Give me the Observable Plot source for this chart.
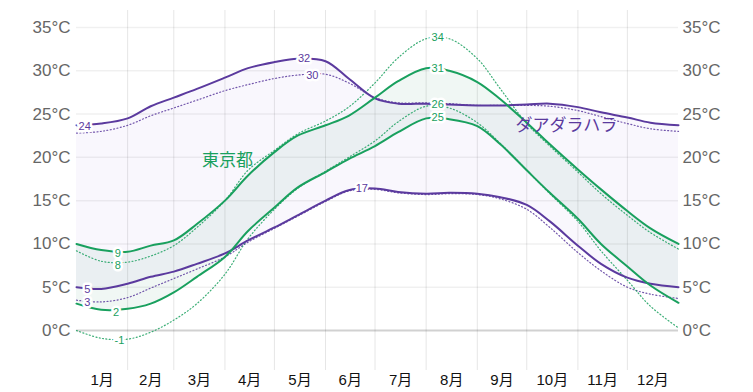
<!DOCTYPE html>
<html>
<head>
<meta charset="utf-8">
<script src="https://cdn.jsdelivr.net/npm/d3@7"></script>
<script src="https://cdn.jsdelivr.net/npm/@observablehq/plot@0.6"></script>
<style>
  html, body { margin: 0; padding: 0; background: #fff; }
  #chart svg { display: block; }
</style>
</head>
<body>
<div id="chart"></div>
<script>
// ---- Data (day of year, °C) ----
const days = [0, 15, 31, 45, 59, 73, 90, 104, 120, 134, 151, 165, 181, 195, 212, 226, 243, 257, 273, 287, 304, 318, 334, 348, 365];

// 東京都 (Tokyo)
const tokyoHigh      = [10.0, 9.3, 9.1, 9.8, 10.4, 12.3, 15.0, 17.9, 20.6, 22.5, 23.7, 24.8, 26.9, 28.8, 30.3, 30.0, 28.7, 26.7, 24.0, 21.5, 18.6, 16.3, 13.8, 11.8, 10.0];
const tokyoLow       = [3.1, 2.4, 2.5, 3.1, 4.4, 6.2, 8.5, 11.5, 14.2, 16.5, 18.3, 19.8, 21.3, 22.9, 24.5, 24.4, 23.6, 21.5, 18.5, 15.9, 12.9, 10.0, 7.4, 5.2, 3.2];
const tokyoFeelHigh  = [9.2, 8.0, 7.9, 8.6, 9.8, 11.9, 15.0, 18.5, 20.8, 22.7, 24.2, 25.8, 28.6, 31.5, 33.7, 33.7, 31.4, 27.9, 23.9, 21.3, 18.3, 15.8, 13.3, 11.3, 9.4];
const tokyoFeelLow   = [0.0, -0.9, -1.0, -0.2, 1.2, 3.1, 6.5, 10.6, 14.0, 16.4, 18.4, 20.0, 21.9, 24.1, 25.9, 25.7, 24.0, 21.6, 18.5, 15.8, 12.6, 9.2, 5.8, 2.8, 0.3];

// ダアダラハラ (Guadalajara)
const guadHigh       = [23.7, 23.9, 24.5, 25.9, 26.9, 27.9, 29.2, 30.3, 31.0, 31.4, 31.1, 29.1, 26.8, 26.2, 26.2, 26.1, 26.0, 26.0, 26.1, 26.2, 25.8, 25.2, 24.6, 24.0, 23.7];
const guadLow        = [5.0, 4.8, 5.4, 6.2, 6.8, 7.7, 8.9, 10.4, 11.9, 13.3, 15.0, 16.2, 16.4, 16.0, 15.8, 15.9, 15.8, 15.4, 14.5, 12.6, 9.8, 7.7, 6.1, 5.4, 5.0];
const guadFeelHigh   = [22.8, 23.0, 23.7, 24.8, 25.7, 26.6, 27.7, 28.4, 29.1, 29.5, 29.6, 28.6, 26.9, 26.3, 26.3, 26.2, 26.0, 26.0, 26.0, 25.9, 25.4, 24.7, 23.9, 23.3, 23.0];
const guadFeelLow    = [3.5, 3.3, 3.8, 4.9, 6.0, 7.1, 8.5, 10.2, 11.8, 13.2, 14.9, 16.1, 16.3, 15.9, 15.7, 15.8, 15.7, 15.2, 14.0, 11.9, 9.0, 6.9, 5.0, 4.2, 3.7];

// value labels
const labelText   = ["24", "32", "30", "5", "3", "17", "9", "8", "2", "-1", "34", "31", "26", "25"];
const labelDay    = [5, 138, 143, 6.5, 6.5, 173, 25, 25, 24, 26, 219, 219, 219, 219];
const labelValue  = [23.6, 31.4, 29.5, 4.7, 3.2, 16.4, 8.9, 7.5, 2.1, -1.15, 33.8, 30.3, 26.1, 24.6];
const labelCity   = ["g", "g", "g", "g", "g", "g", "t", "t", "t", "t", "t", "t", "t", "t"];

// city names
const cityNames  = ["東京都", "ダアダラハラ"];
const cityKeys   = ["t", "g"];
const cityDay    = [91.5, 297];
const cityValue  = [19.6, 23.7];

// axes
const monthStarts = [0, 31, 59, 90, 120, 151, 181, 212, 243, 273, 304, 334, 365];
const monthLabels = ["1月", "2月", "3月", "4月", "5月", "6月", "7月", "8月", "9月", "10月", "11月", "12月"];
const tempTicks   = [0, 5, 10, 15, 20, 25, 30, 35];

// ---- Build tables ----
const colors = { t: "#19a05e", g: "#5b3a9e" };
const band = (hi, lo) => days.map((d, i) => ({ day: d, high: hi[i], low: lo[i] }));
const series = (vals) => days.map((d, i) => ({ day: d, v: vals[i] }));
const tokyoBand = band(tokyoHigh, tokyoLow);
const guadBand = band(guadHigh, guadLow);
const labels = labelText.map((t, i) => ({ t, day: labelDay[i], v: labelValue[i], c: colors[labelCity[i]] }));
const cities = cityNames.map((n, i) => ({ n, day: cityDay[i], v: cityValue[i], c: colors[cityKeys[i]] }));
const monthMid = monthLabels.map((m, i) => (monthStarts[i] + monthStarts[i + 1]) / 2);
const midToLabel = new Map(monthMid.map((d, i) => [d, monthLabels[i]]));

const curve = "catmull-rom";
const solid = (vals, c) => Plot.line(series(vals), { x: "day", y: "v", stroke: c, strokeWidth: 2, curve });
const dotted = (vals, c) => Plot.line(series(vals), { x: "day", y: "v", stroke: c, strokeWidth: 1.2, strokeDasharray: "1,2.4", strokeOpacity: 0.85, curve });

const font = "Helvetica, Arial, 'Liberation Sans', 'Noto Sans CJK JP', sans-serif";

const chart = Plot.plot({
  width: 753,
  height: 392,
  marginLeft: 76,
  marginRight: 75,
  marginTop: 10,
  marginBottom: 22,
  style: { fontFamily: font, background: "#fff", overflow: "visible" },
  x: { domain: [0, 365] },
  y: { domain: [-4.62, 36.96] },
  marks: [
    Plot.ruleY(tempTicks.filter(d => d !== 0), { stroke: "#000", strokeOpacity: 0.06, strokeWidth: 1.5 }),
    Plot.ruleX(monthStarts.slice(1, 12), { stroke: "#000", strokeOpacity: 0.1, strokeWidth: 1 }),
    Plot.areaY(guadBand, { x: "day", y1: "low", y2: "high", fill: "#6a45c8", fillOpacity: 0.045, curve }),
    Plot.areaY(tokyoBand, { x: "day", y1: "low", y2: "high", fill: "#2c8a6a", fillOpacity: 0.07, curve }),
    Plot.ruleY([0], { stroke: "#000", strokeOpacity: 0.18, strokeWidth: 2 }),
    dotted(guadFeelHigh, colors.g),
    dotted(guadFeelLow, colors.g),
    dotted(tokyoFeelHigh, colors.t),
    dotted(tokyoFeelLow, colors.t),
    solid(guadHigh, colors.g),
    solid(guadLow, colors.g),
    solid(tokyoHigh, colors.t),
    solid(tokyoLow, colors.t),
    Plot.text(labels, { x: "day", y: "v", text: "t", fill: "c", fontSize: 11, stroke: "white", strokeWidth: 5, fontFamily: font }),
    Plot.text(cities, { x: "day", y: "v", text: "n", fill: "c", fontSize: 17, fontFamily: "'Noto Sans CJK JP', sans-serif" }),
    Plot.axisY(tempTicks, { anchor: "left", tickSize: 0, tickPadding: 6, tickFormat: d => d + "°C", fontSize: 17, color: "#666", label: null }),
    Plot.axisY(tempTicks, { anchor: "right", tickSize: 0, tickPadding: 4, tickFormat: d => d + "°C", fontSize: 17, color: "#666", label: null }),
    Plot.axisX(monthMid, { tickSize: 0, tickPadding: 4, tickFormat: d => midToLabel.get(d), fontSize: 15, color: "#111", label: null })
  ]
});
document.getElementById("chart").appendChild(chart);
</script>
</body>
</html>
